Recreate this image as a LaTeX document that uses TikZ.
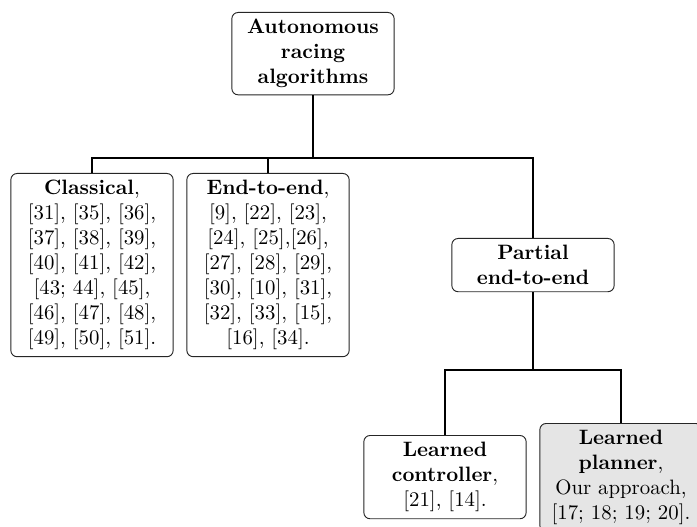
\documentclass[tikz,border=0pt]{standalone}
\usepackage{tikz}
\usetikzlibrary{positioning}

\begin{document}
\begin{tikzpicture}[x=0.4806pt,y=-0.4806pt,
  cat/.style={draw=black!85,line width=0.45pt,rounded corners=3pt,align=center,
              text width=72pt,inner xsep=3pt,inner ysep=3.3pt,fill=white},
  ours/.style={cat,fill=black!10},
  link/.style={draw=black,line width=0.6pt}]

  \useasboundingbox (0,0) rectangle (697,527);

  % ---------- root ----------
  \node[cat,anchor=north] (root) at (313,12) {\textbf{Autonomous}\\ \textbf{racing}\\ \textbf{algorithms}};

  % ---------- first level ----------
  \node[cat,anchor=north] (classic) at (92,173)
    {\textbf{Classical},\\
     {[31]}, [35], [36],\\ {[37]}, [38], [39],\\ {[40]}, [41], [42],\\ {[43; 44]}, [45],\\
     {[46]}, [47], [48],\\ {[49]}, [50], [51].};
  \node[cat,anchor=north] (etoe) at (268,173)
    {\textbf{End-to-end},\\
     {[9]}, [22], [23],\\ {[24]}, [25],[26],\\ {[27]}, [28], [29],\\ {[30]}, [10], [31],\\
     {[32]}, [33], [15],\\ {[16]}, [34].};
  \node[cat,anchor=north] (partial) at (533,238) {\textbf{Partial}\\ \textbf{end-to-end}};

  % ---------- second level ----------
  \node[cat,anchor=north] (ctrl) at (445,435) {\textbf{Learned}\\ \textbf{controller},\\ {[21]}, [14].};
  \node[ours,anchor=north] (planner) at (621,423)
    {\textbf{Learned}\\ \textbf{planner},\\ Our approach,\\ {[17; 18; 19; 20]}.};

  % ---------- tree links ----------
  \coordinate (bus1) at (313,158);
  \coordinate (bus2) at (533,370);
  \draw[link] (root) -- (bus1);
  \draw[link] (bus1) -| (classic);
  \draw[link] (bus1) -| (etoe);
  \draw[link] (bus1) -| (partial);
  \draw[link] (partial) -- (bus2);
  \draw[link] (bus2) -| (ctrl);
  \draw[link] (bus2) -| (planner);
\end{tikzpicture}
\end{document}
